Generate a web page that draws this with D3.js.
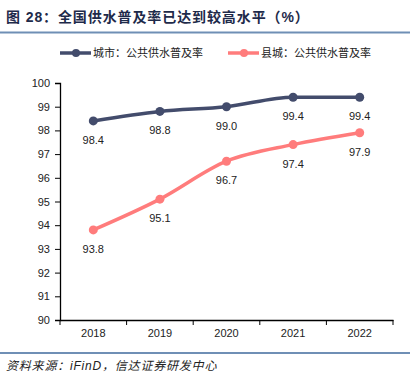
<!DOCTYPE html>
<html><head><meta charset="utf-8">
<script src="https://cdn.jsdelivr.net/npm/d3@7"></script>
<style>body{margin:0;background:#fff;}svg{display:block;}</style>
</head><body>
<script>
const years = ["2018","2019","2020","2021","2022"];
const cityValues = [98.4, 98.8, 99.0, 99.4, 99.4];
const countyValues = [93.8, 95.1, 96.7, 97.4, 97.9];
const yTicks = [90,91,92,93,94,95,96,97,98,99,100];
const seriesNames = ["城市：公共供水普及率","县城：公共供水普及率"];
const colors = ["#434c6c","#ff7c7c"];

const W=414,H=386;
const svg=d3.select("body").append("svg").attr("width",W).attr("height",H);
const cjk="'Liberation Sans','Noto Sans CJK SC',Arial,sans-serif";

svg.append("text").attr("x",6).attr("y",22).attr("font-family",cjk).attr("font-size",14)
  .attr("font-weight","bold").attr("letter-spacing",0.9).attr("fill","#1e2a4a").text("图 28：全国供水普及率已达到较高水平（%）");
svg.append("line").attr("x1",0).attr("x2",410).attr("y1",32.5).attr("y2",32.5).attr("stroke","#6f8fb5").attr("stroke-width",2);

const x=d3.scaleBand().domain(years).range([60,393]);
const y=d3.scaleLinear().domain([90,100]).range([320,83]);

const g=svg.append("g");
const ya=d3.axisLeft(y).tickValues(yTicks).tickSize(5).tickFormat(d3.format("d"));
g.append("g").attr("transform","translate(60,0)").call(ya)
  .call(s=>{s.select(".domain").attr("stroke","#000").attr("stroke-width",1.3);
    s.selectAll(".tick line").attr("stroke","#000");
    s.selectAll("text").attr("font-family",cjk).attr("font-size",11).attr("fill","#222").attr("dx",-2);});
const xa=d3.axisBottom(x).tickSize(0);
const xg=g.append("g").attr("transform","translate(0,320)").call(xa)
  .call(s=>{s.select(".domain").attr("stroke","#000").attr("stroke-width",1.3);
    s.selectAll("text").attr("font-family",cjk).attr("font-size",11).attr("fill","#222").attr("dy",14);});
const bounds=years.map(d=>x(d)).concat([x.range()[1]]);
xg.selectAll(".btick").data(bounds).enter().append("line").attr("x1",d=>d).attr("x2",d=>d)
  .attr("y1",0).attr("y2",5).attr("stroke","#000");

const cx=d=>x(d)+x.bandwidth()/2;
const line=d3.line().x((d,i)=>cx(years[i])).y(d=>y(d)).curve(d3.curveMonotoneX);
[cityValues,countyValues].forEach((vals,k)=>{
  svg.append("path").attr("d",line(vals)).attr("fill","none").attr("stroke",colors[k]).attr("stroke-width",3.5);
  svg.selectAll(".pt"+k).data(vals).enter().append("circle").attr("cx",(d,i)=>cx(years[i])).attr("cy",d=>y(d))
    .attr("r",4.5).attr("fill",colors[k]);
  svg.selectAll(".lb"+k).data(vals).enter().append("text").attr("x",(d,i)=>cx(years[i])).attr("y",d=>y(d)+23)
    .attr("text-anchor","middle").attr("font-family",cjk).attr("font-size",11).attr("fill","#222").text(d=>d.toFixed(1));
});

const lx=[60,228];
seriesNames.forEach((n,k)=>{
  svg.append("line").attr("x1",lx[k]).attr("x2",lx[k]+31).attr("y1",53).attr("y2",53).attr("stroke",colors[k]).attr("stroke-width",3.5);
  svg.append("circle").attr("cx",lx[k]+16).attr("cy",53).attr("r",4).attr("fill",colors[k]);
  svg.append("text").attr("x",lx[k]+33).attr("y",57).attr("font-family",cjk).attr("font-size",11).attr("fill","#222").text(n);
});

svg.append("line").attr("x1",0).attr("x2",410).attr("y1",353).attr("y2",353).attr("stroke","#6f8fb5").attr("stroke-width",2);
svg.append("text").attr("x",6).attr("y",370).attr("font-family",cjk).attr("font-size",12).attr("font-style","italic")
  .attr("letter-spacing",0.8).attr("fill","#222").text("资料来源：iFinD，信达证券研发中心");
</script>
</body></html>
